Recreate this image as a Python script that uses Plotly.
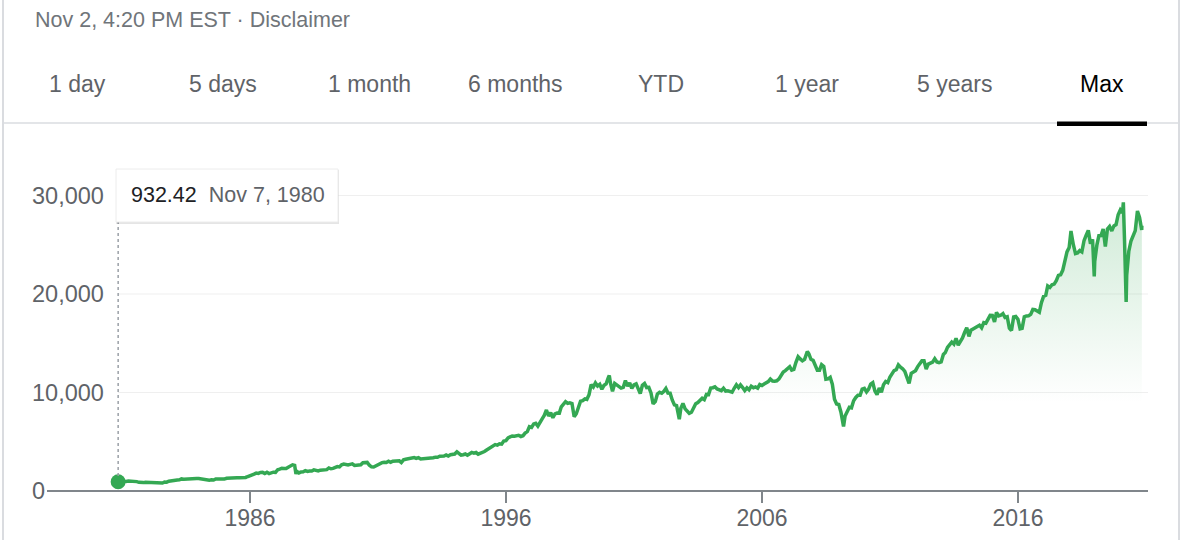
import pandas as pd
import plotly.graph_objects as go

# ---------------- data ----------------
v1980 = [993, 964]
v1981 = [947, 975, 1004, 998, 992, 977, 952, 882, 850, 853, 889, 875]
v1982 = [871, 824, 823, 848, 820, 812, 809, 901, 896, 992, 1039, 1047]
v1983 = [1076, 1113, 1130, 1226, 1200, 1222, 1199, 1216, 1233, 1225, 1276, 1259]
v1984 = [1221, 1155, 1165, 1171, 1105, 1132, 1115, 1224, 1207, 1207, 1189, 1212]
v1985 = [1287, 1284, 1267, 1258, 1315, 1336, 1348, 1334, 1329, 1375, 1472, 1547]
v1986 = [1571, 1710, 1819, 1784, 1877, 1893, 1775, 1898, 1768, 1878, 1914, 1896]
v1987 = [2158, 2224, 2305, 2286, 2292, 2419, 2572, 2663, 2596, 1994, 1834, 1939]
v1988 = [1958, 2072, 1988, 2032, 2031, 2142, 2129, 2032, 2113, 2149, 2115, 2169]
v1989 = [2342, 2259, 2294, 2419, 2480, 2440, 2661, 2737, 2693, 2645, 2706, 2753]
v1990 = [2591, 2627, 2707, 2657, 2877, 2881, 2905, 2614, 2453, 2442, 2560, 2634]
v1991 = [2736, 2882, 2914, 2888, 3028, 2907, 3025, 3044, 3017, 3069, 2895, 3169]
v1992 = [3224, 3267, 3236, 3359, 3397, 3319, 3394, 3257, 3272, 3226, 3305, 3301]
v1993 = [3310, 3371, 3435, 3428, 3527, 3516, 3540, 3651, 3555, 3681, 3684, 3754]
v1994 = [3978, 3832, 3636, 3682, 3758, 3625, 3765, 3913, 3843, 3908, 3739, 3834]
v1995 = [3844, 4011, 4158, 4321, 4465, 4556, 4709, 4650, 4789, 4756, 5075, 5117]
v1996 = [5395, 5486, 5587, 5569, 5643, 5655, 5529, 5616, 5882, 6029, 6522, 6448]
v1997 = [6813, 6878, 6584, 7009, 7331, 7673, 8223, 7622, 7945, 7442, 7823, 7908]
v1998 = [7907, 8546, 8800, 9063, 8900, 8952, 8883, 7539, 7843, 8592, 9117, 9181]
v1999 = [9359, 9307, 9786, 10789, 10560, 10971, 10655, 10829, 10337, 10730, 10878, 11497]
v2000 = [10941, 10128, 10922, 10734, 10522, 10448, 10522, 11215, 10651, 10971, 10415, 10787]
v2001 = [10887, 10495, 9879, 10735, 10912, 10502, 10523, 9950, 8848, 9075, 9852, 10022]
v2002 = [9920, 10106, 10404, 9946, 9925, 9243, 8737, 8664, 7592, 8397, 8896, 8342]
v2003 = [8054, 7891, 7992, 8480, 8850, 8985, 9234, 9416, 9275, 9801, 9782, 10454]
v2004 = [10488, 10584, 10358, 10226, 10188, 10435, 10140, 10174, 10080, 10027, 10428, 10783]
v2005 = [10490, 10766, 10504, 10193, 10467, 10275, 10641, 10482, 10569, 10440, 10806, 10718]
v2006 = [10865, 10993, 11109, 11367, 11168, 11150, 11186, 11381, 11679, 12081, 12222, 12463]
v2007 = [12622, 12269, 12354, 13063, 13628, 13409, 13212, 13358, 13896, 13930, 13372, 13265]
v2008 = [12650, 12266, 12263, 12820, 12638, 11350, 11378, 11544, 10851, 9325, 8829, 8776]
v2009 = [8001, 7063, 7609, 8168, 8500, 8447, 9172, 9496, 9712, 9713, 10345, 10428]
v2010 = [10067, 10325, 10857, 11009, 10137, 9774, 10466, 10015, 10788, 11118, 11006, 11578]
v2011 = [11892, 12226, 12320, 12811, 12570, 12414, 12143, 11614, 10913, 11955, 12046, 12218]
v2012 = [12633, 12952, 13212, 13214, 12393, 12880, 13009, 13091, 13437, 13096, 13026, 13104]
v2013 = [13861, 14054, 14579, 14840, 15116, 14910, 15500, 14810, 15130, 15546, 16086, 16577]
v2014 = [15699, 16322, 16458, 16581, 16717, 16827, 16563, 17098, 17043, 17391, 17828, 17823]
v2015 = [17165, 18133, 17776, 17841, 18011, 17620, 17690, 16528, 16285, 17664, 17720, 17425]
v2016 = [16466, 16517, 17685, 17774, 17787, 17930, 18432, 18401, 18308, 18142, 19124, 19763]
v2017 = [19864, 20812, 20663, 20941, 21009, 21350, 21891, 21948, 22405, 23377, 24272, 24719]
v2018 = [26149, 25029, 24103, 24163, 24416, 24271, 25415, 25965, 26458, 25116, 25538, 23327]
v2019 = [24999, 25916, 25929, 26593, 24815, 26600, 26864, 26403, 26917, 27046, 28051, 28538]
v2020 = [28256, 25409, 21917, 24346, 25383, 25813, 26428, 28430, 27782, 26502]

monthly_values = (v1980 + v1981 + v1982 + v1983 + v1984 + v1985 + v1986 + v1987 + v1988
                  + v1989 + v1990 + v1991 + v1992 + v1993 + v1994 + v1995 + v1996 + v1997
                  + v1998 + v1999 + v2000 + v2001 + v2002 + v2003 + v2004 + v2005 + v2006
                  + v2007 + v2008 + v2009 + v2010 + v2011 + v2012 + v2013 + v2014 + v2015
                  + v2016 + v2017 + v2018 + v2019 + v2020)
monthly_dates = pd.date_range("1980-11-30", periods=len(monthly_values), freq=pd.offsets.MonthEnd())

key_dates = ["1980-11-07", "1987-08-25", "1987-10-19", "2000-01-14", "2002-10-09",
             "2007-10-09", "2009-03-09", "2018-01-26", "2018-12-24", "2020-02-12",
             "2020-03-23", "2020-11-02"]
key_values = [932.42, 2722, 1739, 11723, 7286, 14165, 6547, 26400, 21792, 29300, 19200, 26925]

y_ticks = [0, 10000, 20000, 30000]
x_tick_dates = ["1986-01-01", "1996-01-01", "2006-01-01", "2016-01-01"]
x_tick_text = ["1986", "1996", "2006", "2016"]
tabs = ["1 day", "5 days", "1 month", "6 months", "YTD", "1 year", "5 years", "Max"]
header_text = "Nov 2, 4:20 PM EST · Disclaimer"
tooltip_value = "932.42"
tooltip_date = "Nov 7, 1980"

df = pd.concat([
    pd.DataFrame({"date": monthly_dates, "value": monthly_values}),
    pd.DataFrame({"date": pd.to_datetime(key_dates), "value": key_values}),
]).sort_values("date").reset_index(drop=True)

# ---------------- layout geometry ----------------
W, H = 1182, 540
L, R, T, B = 33, 1148, 160, 491
px_per_unit = (491 - 195.5) / 30000
ymax = (B - T) / px_per_unit

t0 = pd.Timestamp("1986-01-01")
t1 = pd.Timestamp("2016-01-01")
per_px = (t1 - t0) / (1018 - 250)
x_start = t0 - (250 - L) * per_px
x_end = t0 + (R - 250) * per_px


def px(x):
    return (x - L) / (R - L)


def py(y):
    return (B - y) / (B - T)


GREEN = "#34a853"
FONT = "Liberation Sans, Arial, Helvetica, sans-serif"

fig = go.Figure()
fig.add_trace(go.Scatter(
    x=df["date"], y=df["value"], mode="lines",
    line=dict(color=GREEN, width=3.5),
    fill="tozeroy",
    fillgradient=dict(
        type="vertical", start=0, stop=30000,
        colorscale=[[0, "rgba(52,168,83,0)"], [0.3, "rgba(52,168,83,0)"],
                    [1, "rgba(52,168,83,0.24)"]],
    ),
    hoverinfo="skip", showlegend=False,
))
first_date = df["date"].iloc[0]
first_val = df["value"].iloc[0]
fig.add_trace(go.Scatter(
    x=[first_date], y=[first_val], mode="markers",
    marker=dict(color=GREEN, size=15), hoverinfo="skip", showlegend=False,
))

shapes = []
# gridlines
for v in y_ticks[1:]:
    shapes.append(dict(type="line", xref="x", yref="y", x0=first_date, x1=x_end,
                       y0=v, y1=v, line=dict(color="#efefef", width=1), layer="below"))
# x-axis line
shapes.append(dict(type="line", xref="paper", yref="paper", x0=px(47), x1=1, y0=0, y1=0,
                   line=dict(color="#80868b", width=2)))
# card borders and tab separator
shapes.append(dict(type="line", xref="paper", yref="paper", x0=px(3), x1=px(3), y0=py(0), y1=py(540),
                   line=dict(color="#dadce0", width=2)))
shapes.append(dict(type="line", xref="paper", yref="paper", x0=px(1179), x1=px(1179), y0=py(0), y1=py(540),
                   line=dict(color="#dadce0", width=2)))
shapes.append(dict(type="line", xref="paper", yref="paper", x0=px(3), x1=px(1179), y0=py(123), y1=py(123),
                   line=dict(color="#dadce0", width=1.5)))
shapes.append(dict(type="rect", xref="paper", yref="paper", x0=px(1057), x1=px(1147), y0=py(126), y1=py(121.5),
                   fillcolor="#000000", line=dict(width=0)))
# dotted guide line
shapes.append(dict(type="line", xref="x", yref="paper", x0=first_date, x1=first_date,
                   y0=py(476), y1=py(222), line=dict(color="#9aa0a6", width=1.5, dash="dot")))
# tooltip shadow + box
shapes.append(dict(type="rect", xref="paper", yref="paper", x0=px(116), x1=px(339), y0=py(224), y1=py(170),
                   fillcolor="rgba(0,0,0,0.10)", line=dict(width=0), layer="above"))
shapes.append(dict(type="rect", xref="paper", yref="paper", x0=px(116), x1=px(338), y0=py(222), y1=py(169),
                   fillcolor="#ffffff", line=dict(color="#ececec", width=1), layer="above"))

annotations = []
annotations.append(dict(xref="paper", yref="paper", x=px(33), y=py(20), xanchor="left", yanchor="middle",
                        text=header_text, showarrow=False,
                        font=dict(family=FONT, size=21.5, color="#70757a")))
tab_centers = [77, 223, 369, 515, 661, 807, 954, 1102]
for name, cx in zip(tabs, tab_centers):
    annotations.append(dict(xref="paper", yref="paper", x=px(cx), y=py(84), xanchor="center", yanchor="middle",
                            text=name, showarrow=False,
                            font=dict(family=FONT, size=23, color="#000000" if name == "Max" else "#5f6368")))
annotations.append(dict(xref="paper", yref="paper", x=px(129), y=py(195), xanchor="left", yanchor="middle",
                        text=tooltip_value + "&nbsp;&nbsp;<span style='color:#5f6368'>" + tooltip_date + "</span>",
                        showarrow=False, font=dict(family=FONT, size=21.5, color="#202124")))

fig.update_layout(
    width=W, height=H, autosize=False,
    margin=dict(l=L, r=W - R, t=T, b=H - B, pad=0, autoexpand=False),
    paper_bgcolor="#ffffff", plot_bgcolor="#ffffff",
    showlegend=False, hovermode=False,
    shapes=shapes, annotations=annotations,
    xaxis=dict(
        type="date", range=[x_start, x_end], automargin=False,
        tickvals=x_tick_dates, ticktext=x_tick_text,
        ticks="outside", ticklen=11, tickwidth=2, tickcolor="#80868b",
        ticklabelstandoff=-5,
        showgrid=False, zeroline=False, showline=False,
        tickfont=dict(family=FONT, size=23, color="#5f6368"),
    ),
    yaxis=dict(
        range=[0, ymax], tickvals=y_ticks, tickformat=",", automargin=False,
        ticklabelposition="inside", ticklabeloverflow="allow", ticklabelstandoff=-4,
        showgrid=False, zeroline=False, showline=False, ticks="",
        tickfont=dict(family=FONT, size=23.5, color="#5f6368"),
    ),
)

fig.write_html(
    "out.html",
    config={"displayModeBar": False, "staticPlot": True},
    post_script="document.body.style.margin='0';document.body.style.overflow='hidden';",
)
